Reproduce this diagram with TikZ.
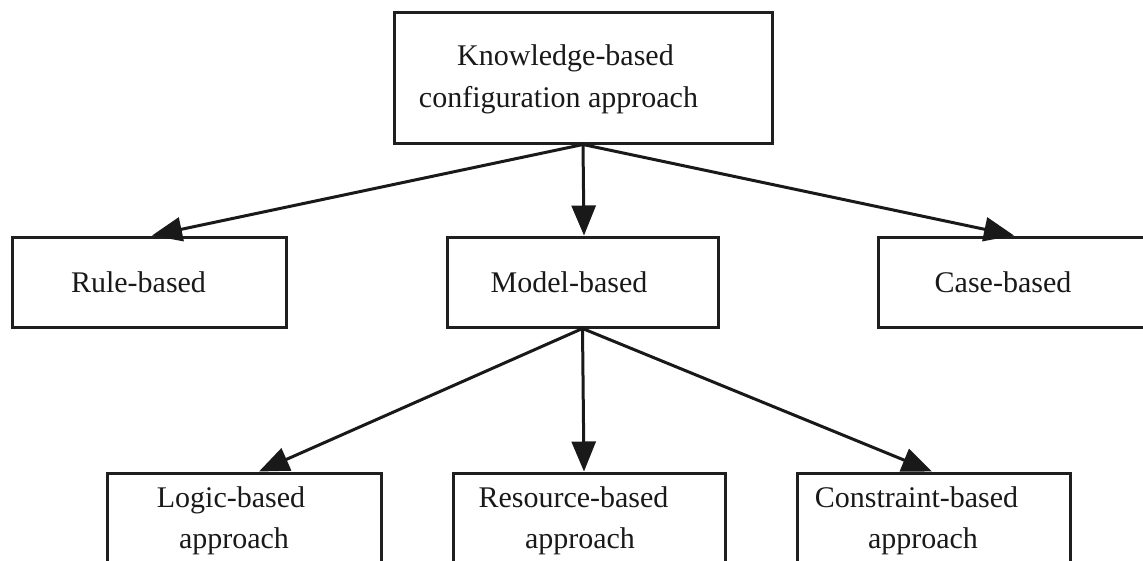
\documentclass[tikz,border=0pt]{standalone}
\usepackage{fontspec}
\setmainfont{Liberation Serif}
\usetikzlibrary{arrows.meta}
\begin{document}
\begin{tikzpicture}[x=1pt,y=-1pt,
  box/.style={draw=black!88, line width=3pt, rectangle, inner sep=0pt},
  lbl/.style={anchor=base, inner sep=0pt, text=black!90,
    font=\fontsize{30}{36}\selectfont},
  arr/.style={draw=black!90, line width=3pt,
    -{Triangle[length=30pt,width=24pt]}}]
  \useasboundingbox (0,0) rectangle (1143,560);
  \clip (0,0) rectangle (1143,560);

  % boxes
  \node[box, minimum width=378pt, minimum height=131pt] (know) at (583,77.5) {};
  \node[box, minimum width=274pt, minimum height=90pt] (rule) at (149,282) {};
  \node[box, minimum width=271pt, minimum height=90pt] (model) at (582.5,282) {};
  \node[box, minimum width=272pt, minimum height=90pt] (case) at (1014,282) {};
  \node[box, minimum width=274pt, minimum height=100pt] (logic) at (244,523) {};
  \node[box, minimum width=272pt, minimum height=100pt] (resource) at (589,523) {};
  \node[box, minimum width=273pt, minimum height=100pt] (constraint) at (933.5,523) {};

  % labels
  \node[lbl] (know1) at (565.5,65) {Knowledge-based};
  \node[lbl] (know2) at (558.5,107) {configuration approach};
  \node[lbl] (rulet) at (138.5,292) {Rule-based};
  \node[lbl] (modelt) at (569,292) {Model-based};
  \node[lbl] (caset) at (1003,292) {Case-based};
  \node[lbl] (logic1) at (231,507) {Logic-based};
  \node[lbl] (logic2) at (234,548) {approach};
  \node[lbl] (res1) at (573.5,507) {Resource-based};
  \node[lbl] (res2) at (580,548) {approach};
  \node[lbl] (con1) at (916.5,507) {Constraint-based};
  \node[lbl] (con2) at (923,548) {approach};

  % connectors
  \draw[arr] (know.south) -- ([xshift=3pt]rule.north);
  \draw[arr] (know.south) -- ([xshift=1.5pt]model.north);
  \draw[arr] (know.south) -- (case.north);
  \draw[arr] (model.south) -- ([xshift=15pt]logic.north);
  \draw[arr] (model.south) -- ([xshift=-5pt]resource.north);
  \draw[arr] (model.south) -- ([xshift=-1.5pt]constraint.north);
\end{tikzpicture}
\end{document}
